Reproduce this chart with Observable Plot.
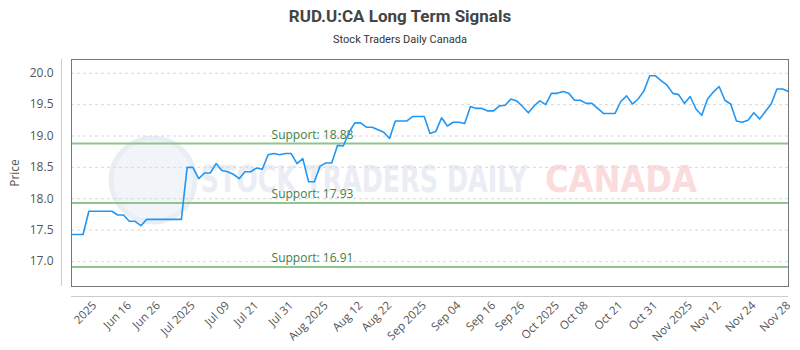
<!DOCTYPE html>
<html><head><meta charset="utf-8">
<script src="https://cdn.jsdelivr.net/npm/d3@7"></script>
<script src="https://cdn.jsdelivr.net/npm/@observablehq/plot@0.6"></script>
<style>
body{margin:0;background:#fff;}
#wrap{width:800px;}
.title{height:30px;line-height:32px;text-align:center;font-family:Roboto,sans-serif;font-weight:bold;font-size:17px;color:#444;}
.sub{height:22px;line-height:20px;text-align:center;font-family:Roboto,sans-serif;font-size:11px;color:#333;}
</style></head><body>
<div id="wrap">
<div class="title">RUD.U:CA Long Term Signals</div>
<div class="sub">Stock Traders Daily Canada</div>
<div id="chart"></div>
</div>
<script>
const prices = [
17.43,17.43,17.43,17.80,17.80,17.80,17.80,17.80,17.74,17.74,
17.64,17.64,17.57,17.67,17.67,17.67,17.67,17.67,17.67,17.67,
18.50,18.50,18.32,18.41,18.41,18.56,18.45,18.43,18.39,18.32,
18.43,18.43,18.49,18.47,18.70,18.72,18.70,18.72,18.72,18.56,
18.64,18.27,18.27,18.52,18.57,18.57,18.85,18.84,19.06,19.21,
19.21,19.14,19.14,19.10,19.06,18.96,19.24,19.24,19.24,19.31,
19.31,19.31,19.04,19.07,19.29,19.16,19.22,19.22,19.20,19.47,
19.44,19.44,19.40,19.40,19.48,19.49,19.59,19.56,19.47,19.37,
19.48,19.56,19.50,19.68,19.68,19.71,19.68,19.57,19.57,19.52,
19.52,19.44,19.36,19.36,19.36,19.55,19.64,19.51,19.59,19.72,
19.96,19.96,19.88,19.81,19.68,19.66,19.52,19.63,19.43,19.33,
19.59,19.70,19.79,19.57,19.51,19.24,19.22,19.25,19.37,19.27,
19.39,19.51,19.75,19.75,19.71
];
const tickIndex = [4,10,15,21,27,32,38,44,50,55,61,67,73,78,84,89,95,101,107,112,118,124];
const tickLabels = ["2025","Jun 16","Jun 26","Jul 2025","Jul 09","Jul 21","Jul 31","Aug 2025","Aug 12","Aug 22","Sep 2025","Sep 04","Sep 16","Sep 26","Oct 2025","Oct 08","Oct 21","Oct 31","Nov 2025","Nov 12","Nov 24","Nov 28"];
const yTicks = [17.0,17.5,18.0,18.5,19.0,19.5,20.0];
const supportLevels = [18.88,17.93,16.91];
const supportLabelIndex = 34.6;
const yDomain = [16.6,20.22];

const data = prices.map((p,i)=>({i,p}));

const chart = Plot.plot({
  width: 800, height: 298,
  marginLeft: 71, marginRight: 12, marginTop: 7, marginBottom: 64,
  style: {fontFamily: "'Open Sans', sans-serif", fontSize: "11.5px", color: "#555", background: "#fff", overflow: "visible"},
  x: {domain: [0, prices.length - 1]},
  y: {domain: yDomain},
  marks: [
    Plot.dot([0], {frameAnchor: "middle", dx: -277, dy: 7, r: 42, fill: "#f1f4f8", stroke: "#e9eef4", strokeWidth: 5}),
    Plot.text(["STOCK TRADERS DAILY"], {frameAnchor: "middle", dx: -66, dy: 7, fontSize: 38, fontWeight: "bold", fill: "#eaeef4", fontFamily: "'DejaVu Sans Condensed', sans-serif", className: "wm1"}),
    Plot.text(["CANADA"], {frameAnchor: "middle", dx: 191, dy: 7, fontSize: 38, fontWeight: "bold", fill: "#fbdcdd", fontFamily: "'DejaVu Sans Condensed', sans-serif", className: "wm2"}),
    Plot.gridY(yTicks, {stroke: "#d8d8d8", strokeOpacity: 1, strokeDasharray: "3,3"}),
    Plot.ruleY(supportLevels, {stroke: "#8cc68c", strokeWidth: 2}),
    Plot.text(supportLevels, {x: () => supportLabelIndex, y: d => d, text: d => `Support: ${d.toFixed(2)}`, textAnchor: "start", dy: -8.5, fill: "#3f7f3f", fontSize: 12}),
    Plot.line(data, {x: "i", y: "p", stroke: "#2196f3", strokeWidth: 1.6}),
    Plot.frame({stroke: "#777"}),
    Plot.ruleX([0], {dx: -10, stroke: "#ccc"}),
    Plot.ruleY([yDomain[0]], {dy: 10, stroke: "#ccc"}),
    Plot.axisY(yTicks, {tickFormat: d => d.toFixed(1), tickSize: 0, tickPadding: 18, label: "Price", labelAnchor: "center", labelArrow: "none", labelOffset: 61, fontSize: 12, fill: "#555"}),
    Plot.axisX(tickIndex, {tickFormat: d => tickLabels[tickIndex.indexOf(d)], tickRotate: -45, tickSize: 0, tickPadding: 17, label: null, fontSize: 11.5, fill: "#555"})
  ]
});
document.getElementById("chart").appendChild(chart);
d3.select(chart).selectAll(".wm1 text").attr("textLength", 327).attr("lengthAdjust", "spacingAndGlyphs");
d3.select(chart).selectAll(".wm2 text").attr("textLength", 152).attr("lengthAdjust", "spacingAndGlyphs");
</script>
</body></html>
